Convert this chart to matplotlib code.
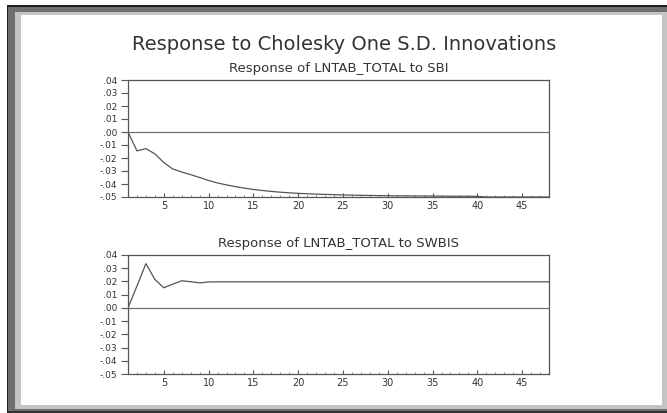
import numpy as np
import matplotlib
matplotlib.use("Agg")
import matplotlib.pyplot as plt
from matplotlib.patches import Rectangle

# periods of the impulse response
periods = list(range(1, 49))

# Response of LNTAB_TOTAL to SBI
resp_sbi = [
    0.0, -0.0145, -0.0128, -0.0168, -0.0235, -0.0285, -0.0308, -0.0328, -0.0350, -0.0373,
    -0.0392, -0.0407, -0.0420, -0.0432, -0.0442, -0.0450, -0.0457, -0.0463, -0.0468, -0.0472,
    -0.0475, -0.0478, -0.0480, -0.0482, -0.0484, -0.0486, -0.0487, -0.0488, -0.0489, -0.0490,
    -0.0491, -0.0491, -0.0492, -0.0492, -0.0493, -0.0493, -0.0494, -0.0494, -0.0494, -0.0495,
    -0.0500, -0.0500, -0.0500, -0.0500, -0.0500, -0.0500, -0.0500, -0.0500,
]

# Response of LNTAB_TOTAL to SWBIS
resp_swbis = [
    0.0, 0.0165, 0.0335, 0.0215, 0.0152, 0.0180, 0.0205, 0.0198, 0.0189, 0.0196,
] + [0.0197] * 38

ytick_vals = [0.04, 0.03, 0.02, 0.01, 0.0, -0.01, -0.02, -0.03, -0.04, -0.05]
ytick_labels = [".04", ".03", ".02", ".01", ".00", "-.01", "-.02", "-.03", "-.04", "-.05"]
xtick_vals = [5, 10, 15, 20, 25, 30, 35, 40, 45]

title = "Response to Cholesky One S.D. Innovations"
sub_titles = ["Response of LNTAB_TOTAL to SBI", "Response of LNTAB_TOTAL to SWBIS"]

W, H = 667, 413
plt.rcParams["font.family"] = ["DejaVu Sans"]

fig = plt.figure(figsize=(W / 100, H / 100), dpi=100)
fig.patch.set_facecolor("white")


def rect(x0, y0, x1, y1, color):
    # pixel box (top-left origin) -> figure fraction
    r = Rectangle((x0 / W, 1 - y1 / H), (x1 - x0) / W, (y1 - y0) / H,
                  transform=fig.transFigure, facecolor=color, edgecolor="none",
                  zorder=-10)
    fig.patches.append(r)


# window frame
rect(7, 5, 667, 413, "#6e6e6e")
rect(7, 5, 667, 7, "#202020")
rect(7, 5, 8, 413, "#202020")
rect(15, 12, 667, 409, "#c4c4c4")
rect(21, 15, 662, 405, "white")
rect(7, 411, 667, 413, "#303030")


def make_axes(top, bottom, values, sub):
    left, right = 128, 549
    ax = fig.add_axes([left / W, 1 - bottom / H, (right - left) / W, (bottom - top) / H])
    ax.axhline(0, color="#707070", lw=0.9)
    ax.plot(periods, values, color="#555555", lw=0.9)
    ax.set_xlim(1, 48)
    ax.set_ylim(-0.05, 0.04)
    ax.set_yticks(ytick_vals)
    ax.set_yticklabels(ytick_labels)
    ax.set_xticks(xtick_vals)
    ax.set_xticks(periods, minor=True)
    ax.tick_params(axis="y", direction="out", length=5, width=0.8, color="#555555",
                   labelsize=6.5, labelcolor="#333333", pad=3)
    ax.tick_params(axis="x", which="major", direction="in", length=3, width=0.8,
                   color="#555555", labelsize=7, labelcolor="#333333", pad=3)
    ax.tick_params(axis="x", which="minor", direction="in", length=1.5, width=0.6,
                   color="#777777")
    for s in ax.spines.values():
        s.set_color("#555555")
        s.set_linewidth(0.9)
    ax.set_title(sub, fontsize=9.5, color="#333333", pad=6)
    return ax


make_axes(80, 197, resp_sbi, sub_titles[0])
make_axes(255, 374, resp_swbis, sub_titles[1])

fig.text(344 / W, 1 - 45 / H, title, ha="center", va="center", fontsize=14,
         color="#333333")

fig.savefig("out.png", dpi=100, facecolor="white")
